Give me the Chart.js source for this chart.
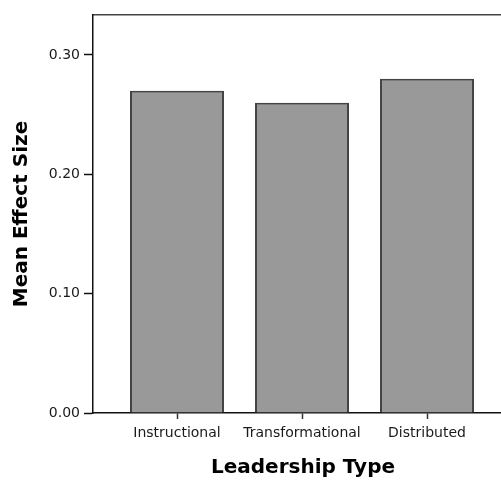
<!DOCTYPE html>
<html>
<head>
<meta charset="utf-8">
<script src="https://cdn.jsdelivr.net/npm/chart.js@4.4.1/dist/chart.umd.min.js"></script>
<style>
  html, body { margin: 0; padding: 0; background: #fff; overflow: hidden; }
  #wrap { width: 513px; height: 481px; }
</style>
</head>
<body>
<div id="wrap"><canvas id="myChart" width="513" height="481"></canvas></div>
<script>
// data ----------------------------------------
const categories = ['Instructional', 'Transformational', 'Distributed'];
const effectSizes = [0.27, 0.26, 0.28];     // mean effect size
const yTicks = [0.00, 0.10, 0.20, 0.30];

const ctx = document.getElementById('myChart');

const points = [];
for (var i = 0; i < categories.length; i++) {
    points.push({x: i, y: effectSizes[i]});
}

// x range so the bars sit where they do in the picture
const xMin = -0.672;
const xMax = 2.688;

const config = {
    type: 'bar',
    data: {
        datasets: [{
            label: 'Mean Effect Size',
            data: points,
            backgroundColor: '#999999',
            borderColor: '#444444',
            borderWidth: 2,
            categoryPercentage: 1,
            barPercentage: 0.752
        }]
    },
    options: {
        responsive: false,
        animation: false,
        layout: { padding: { top: 15, left: 0, right: 0, bottom: 0 } },
        plugins: { legend: { display: false }, tooltip: { enabled: false } },
        scales: {
            x: {
                type: 'linear',
                position: 'bottom',
                offset: false,
                min: xMin,
                max: xMax,
                afterBuildTicks: (scale) => { scale.ticks = categories.map((c, i) => ({value: i})); },
                afterFit: (scale) => { scale.height = 68; },
                ticks: {
                    callback: (v) => categories[v],
                    color: '#1a1a1a',
                    font: { family: 'DejaVu Sans', size: 14 },
                    padding: 6,
                    maxRotation: 0,
                    autoSkip: false
                },
                grid: { offset: false, drawOnChartArea: false, tickLength: 6, tickColor: '#333', tickWidth: 1.5 },
                border: { color: '#111', width: 1.5 },
                title: {
                    display: true,
                    text: 'Leadership Type',
                    color: '#000',
                    font: { family: 'DejaVu Sans', size: 20, weight: 'bold' },
                    padding: { top: 0, bottom: 1 }
                }
            },
            x2: {
                type: 'linear',
                position: 'top',
                offset: false,
                min: xMin,
                max: xMax,
                afterFit: (scale) => { scale.height = 0; },
                ticks: { display: false },
                grid: { drawOnChartArea: false, drawTicks: false },
                border: { color: '#444', width: 1.5 }
            },
            y: {
                min: 0,
                max: 0.3335,
                afterBuildTicks: (scale) => { scale.ticks = yTicks.map(v => ({value: v})); },
                afterFit: (scale) => { scale.width = 93; },
                ticks: {
                    callback: (v) => v.toFixed(2),
                    color: '#1a1a1a',
                    font: { family: 'DejaVu Sans', size: 14 },
                    padding: 4
                },
                grid: { drawOnChartArea: false, tickLength: 9, tickColor: '#111', tickWidth: 1.5 },
                border: { color: '#111', width: 1.5 },
                title: {
                    display: true,
                    text: 'Mean Effect Size',
                    color: '#000',
                    font: { family: 'DejaVu Sans', size: 20, weight: 'bold' },
                    padding: { top: 10, bottom: 0 }
                }
            }
        }
    }
};

const chart = new Chart(ctx, config);
</script>
</body>
</html>
